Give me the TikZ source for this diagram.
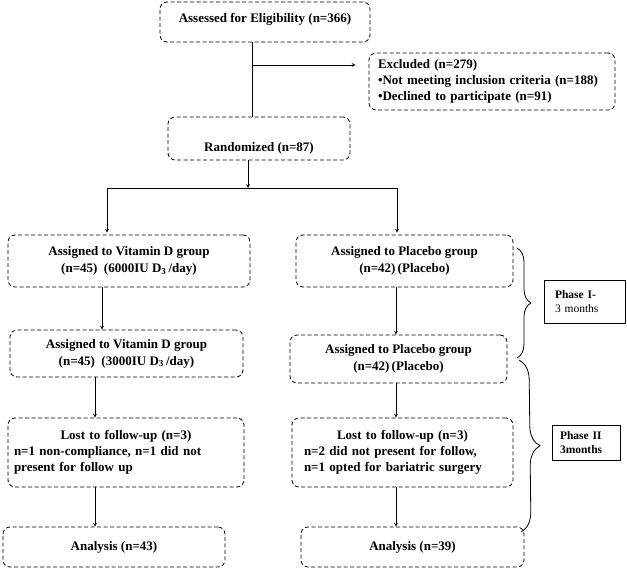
\documentclass[tikz,border=0pt]{standalone}
\usepackage{fontspec}
\setmainfont{Liberation Serif}
\usetikzlibrary{decorations.pathreplacing}
\begin{document}
\begin{tikzpicture}[x=1pt, y=-1pt,
        box/.style = {draw, line width=0.8pt, dash pattern=on 4pt off 2.5pt,
            rounded corners=7pt, inner sep=0pt, align=center,
            font=\fontsize{13}{16}\selectfont\bfseries},
        phase/.style = {draw, line width=0.8pt, inner ysep=0pt, align=left,
            font=\fontsize{11.5}{14}\selectfont},
        arrow/.style = {line width=0.7pt,-stealth},
        brc/.style = {line width=0.8pt, decorate, decoration={brace, amplitude=#1}}]
    \useasboundingbox (0,0) rectangle (627,569);

    \node[box, minimum width=210pt, minimum height=40pt] (assess) at (265,22) {};
    \node[font=\fontsize{13}{16}\selectfont\bfseries] (assesstxt) at ([yshift=3pt]assess.center)
        {Assessed for Eligibility (n=366)};
    \node[box, minimum height=57pt, text width=228pt, inner xsep=9pt, align=left] (excl) at (492,81.5)
        {Excluded (n=279)\\•Not meeting inclusion criteria (n=188)\\•Declined to participate (n=91)};
    \node[box, minimum width=182pt, minimum height=43pt] (rand) at (259,138.5) {};
    \node[font=\fontsize{13}{16}\selectfont\bfseries] (randtxt) at ([yshift=-9.5pt]rand.center)
        {Randomized (n=87)};

    \node[box, minimum width=242pt, minimum height=52pt] (vd1) at (129,261)
        {Assigned to Vitamin D group\\[1pt](n=45)~~(6000IU D\textsubscript{3}\,/day)};
    \node[box, minimum width=217pt, minimum height=52pt] (pl1) at (404.5,261)
        {Assigned to Placebo group\\[1pt](n=42)\,(Placebo)};
    \node[box, minimum width=233pt, minimum height=47pt] (vd2) at (126.5,353.5)
        {Assigned to Vitamin D group\\[1pt](n=45)~~(3000IU D\textsubscript{3}\,/day)};
    \node[box, minimum width=217pt, minimum height=48pt] (pl2) at (398.5,359)
        {Assigned to Placebo group\\[1pt](n=42)\,(Placebo)};

    \node[box, minimum height=69pt, text width=224pt, inner xsep=6pt, align=left] (lost1) at (126,452.5)
        {\makebox[\linewidth]{Lost to follow-up (n=3)}\\n=1 non-compliance, n=1 did not\\present for follow up};
    \node[box, minimum height=69pt, text width=197pt, inner xsep=12pt, align=left] (lost2) at (402.5,452.5)
        {\makebox[\linewidth]{Lost to follow-up (n=3)}\\n=2 did not present for follow,\\n=1 opted for bariatric surgery};

    \node[box, minimum width=222pt, minimum height=40pt] (an1) at (114,547) {Analysis (n=43)};
    \node[box, minimum width=223pt, minimum height=40pt] (an2) at (412.5,547) {Analysis (n=39)};

    \node[phase, minimum height=43pt, text width=59pt, inner xsep=11pt] (ph1) at (584.5,301.5)
        {\textbf{Phase I-}\\3 months};
    \node[phase, minimum height=35pt, text width=52pt, inner xsep=8pt] (ph2) at (586,442.5)
        {\textbf{Phase II}\\\textbf{3months}};

    \coordinate (bend) at (252,65);
    \draw[line width=0.8pt] (assess.south -| bend) -- (rand.north -| bend);
    \draw[arrow, shorten >=13pt] (bend) -- (excl.west |- bend);

    \coordinate (split) at (248,188);
    \coordinate (sl) at (107,188);
    \coordinate (sr) at (397,188);
    \draw[arrow] (rand.south -| split) -- (split);
    \draw[line width=0.8pt] (sl) -- (sr);
    \draw[arrow, shorten >=2pt] (sl) -- (vd1.north -| sl);
    \draw[arrow, shorten >=2pt] (sr) -- (pl1.north -| sr);

    \draw[arrow] (vd1.south -| 102,0) -- (vd2.north -| 102,0);
    \draw[arrow] (vd2.south -| 95,0) -- (lost1.north -| 95,0);
    \draw[arrow] (lost1.south -| 95,0) -- (an1.north -| 95,0);
    \draw[arrow] (pl1.south -| 396,0) -- (pl2.north -| 396,0);
    \draw[arrow] (pl2.south -| 396,0) -- (lost2.north -| 396,0);
    \draw[arrow] (lost2.south -| 396,0) -- (an2.north -| 396,0);

    \draw[brc=14pt] (517,248) -- (517,358);
    \draw[brc=20pt] (519,360) -- (521,532);
\end{tikzpicture}
\end{document}
